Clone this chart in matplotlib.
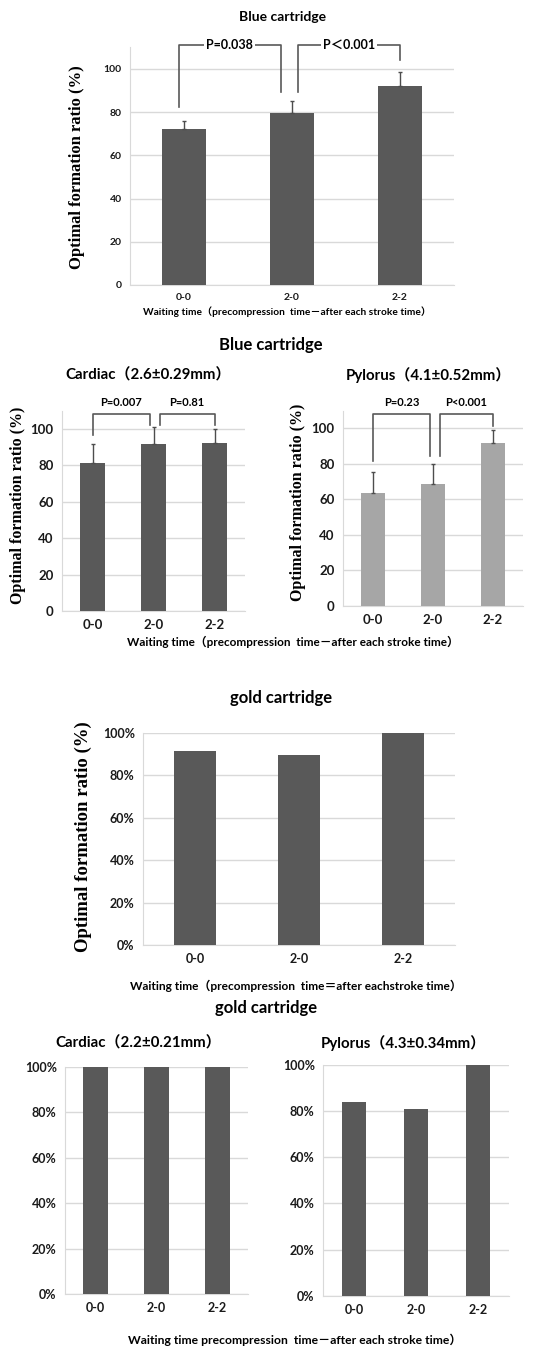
import matplotlib
matplotlib.use('Agg')
import matplotlib.pyplot as plt
import numpy as np

# categories (waiting time) shared by every panel
cats = ['0-0', '2-0', '2-2']

# blue cartridge, overall
blue_all = [72.1, 79.5, 92.1]
blue_all_err = [3.7, 5.7, 6.7]

# blue cartridge, by site
blue_cardiac = [81.5, 91.6, 92.3]
blue_cardiac_err = [10.0, 9.7, 7.5]
blue_pylorus = [63.8, 68.8, 91.7]
blue_pylorus_err = [11.4, 10.9, 7.3]

# gold cartridge
gold_all = [0.915, 0.895, 1.0]
gold_cardiac = [1.0, 1.0, 1.0]
gold_pylorus = [0.838, 0.808, 1.0]

# p-value brackets: (x_left, x_right, y_left_end, y_right_end, y_top, label)
brk_all = [(-0.05, 0.9, 82.6, 89.5, 111, 'P=0.038'),
           (1.06, 2.0, 89.5, 104, 111, 'P\uff1c0.001')]
brk_cardiac = [(0.0, 0.94, 96.7, 102, 108.2, 'P=0.007'),
               (1.1, 2.0, 102, 102, 108.2, 'P=0.81')]
brk_pylorus = [(0.0, 0.95, 81.6, 84.4, 108, 'P=0.23'),
               (1.12, 2.0, 84.4, 101, 108, 'P<0.001')]

W, H = 550, 1347
DARK = '#595959'
LIGHT = '#a6a6a6'
GRID = '#d9d9d9'

plt.rcParams['font.family'] = ['Lato', 'Noto Sans CJK JP', 'DejaVu Sans']

fig = plt.figure(figsize=(W / 100, H / 100), dpi=100)


def box(left, top, right, bottom):
    return [left / W, 1 - bottom / H, (right - left) / W, (bottom - top) / H]


def ftext(x, y, s, size, **kw):
    fig.text(x / W, 1 - y / H, s, fontsize=size, ha='center', va='center', **kw)


def make_axes(rect, vals, color, ylim, ticks, tick_fmt, tsize, err=None):
    ax = fig.add_axes(rect)
    x = np.arange(len(cats))
    ax.bar(x, vals, width=0.4, color=color, zorder=3)
    if err is not None:
        ax.errorbar(x, vals, yerr=[np.zeros(len(err)), err], fmt='none',
                    ecolor='#4d4d4d', elinewidth=1, capsize=1.5, zorder=4)
    ax.set_xlim(-0.5, len(cats) - 0.5)
    ax.set_ylim(*ylim)
    ax.set_yticks(ticks)
    ax.set_yticklabels([tick_fmt(t) for t in ticks], fontweight='bold', fontsize=tsize)
    ax.set_xticks(x)
    ax.set_xticklabels(cats, fontweight='bold', fontsize=tsize)
    ax.tick_params(length=0, pad=6, colors='#1a1a1a')
    ax.grid(axis='y', color=GRID, lw=1, zorder=0)
    for s in ['top', 'right']:
        ax.spines[s].set_visible(False)
    for s in ['left', 'bottom']:
        ax.spines[s].set_color(GRID)
    return ax


def brackets(ax, data, size, boxed):
    for x0, x1, y0, y1, yt, lab in data:
        ax.plot([x0, x0, x1, x1], [y0, yt, yt, y1], color='#595959', lw=1.2,
                clip_on=False, zorder=5)
        if boxed:
            ax.text((x0 + x1) / 2, yt, lab, ha='center', va='center', fontsize=size,
                    fontweight='bold', zorder=6, clip_on=False,
                    bbox=dict(facecolor='white', edgecolor='none', pad=1.5))
        else:
            ax.text((x0 + x1) / 2, yt + 6.5, lab, ha='center', va='center',
                    fontsize=size, fontweight='bold', clip_on=False)


num = lambda t: f'{t:g}'
pct = lambda t: f'{t * 100:.0f}%'
serif = dict(family='Liberation Serif', fontweight='bold')

# ---- panel 1 : blue cartridge overall
ax1 = make_axes(box(130, 47.4, 454, 285), blue_all, DARK, (0, 110),
                [0, 20, 40, 60, 80, 100], num, 7.5, blue_all_err)
brackets(ax1, brk_all, 9, True)
ftext(283, 17, 'Blue cartridge', 10, fontweight='bold')
ftext(77, 167, 'Optimal formation ratio (%)', 12, rotation=90, **serif)
ftext(287, 312, 'Waiting time\uff08precompression  time\uff0dafter each stroke time\uff09', 7.3,
      fontweight='bold')

# ---- panel 2 : blue cartridge, cardiac / pylorus
ax2 = make_axes(box(62, 410.8, 245, 611), blue_cardiac, DARK, (0, 110),
                [0, 20, 40, 60, 80, 100], num, 9.5, blue_cardiac_err)
brackets(ax2, brk_cardiac, 8, False)
ax3 = make_axes(box(343, 410.5, 523, 606), blue_pylorus, LIGHT, (0, 110),
                [0, 20, 40, 60, 80, 100], num, 9.5, blue_pylorus_err)
brackets(ax3, brk_pylorus, 8, False)
ftext(271, 345, 'Blue cartridge', 12, fontweight='bold')
ftext(148, 375, 'Cardiac\uff082.6\u00b10.29mm\uff09', 10.8, fontweight='bold')
ftext(428, 375, 'Pylorus\uff084.1\u00b10.52mm\uff09', 10.8, fontweight='bold')
ftext(18, 505, 'Optimal formation ratio (%)', 11.5, rotation=90, **serif)
ftext(298, 502, 'Optimal formation ratio (%)', 11.5, rotation=90, **serif)
ftext(293, 642, 'Waiting time\uff08precompression  time\uff0dafter each stroke time\uff09', 8.5,
      fontweight='bold')

# ---- panel 3 : gold cartridge overall
ax4 = make_axes(box(143, 732.7, 455, 945), gold_all, DARK, (0, 1),
                [0, 0.2, 0.4, 0.6, 0.8, 1.0], pct, 9)
ftext(281, 698, 'gold cartridge', 12, fontweight='bold')
ftext(83, 837, 'Optimal formation ratio (%)', 13.5, rotation=90, **serif)
ftext(296, 986, 'Waiting time\uff08precompression  time\uff1dafter eachstroke time\uff09', 8.6,
      fontweight='bold')

# ---- panel 4 : gold cartridge, cardiac / pylorus
ax5 = make_axes(box(65, 1066.7, 248, 1294), gold_cardiac, DARK, (0, 1),
                [0, 0.2, 0.4, 0.6, 0.8, 1.0], pct, 9)
ax6 = make_axes(box(323, 1065, 509, 1295.7), gold_pylorus, DARK, (0, 1),
                [0, 0.2, 0.4, 0.6, 0.8, 1.0], pct, 9)
ftext(266, 1008, 'gold cartridge', 12, fontweight='bold')
ftext(138, 1043, 'Cardiac\uff082.2\u00b10.21mm\uff09', 10.8, fontweight='bold')
ftext(403, 1043, 'Pylorus\uff084.3\u00b10.34mm\uff09', 10.8, fontweight='bold')
ftext(295, 1340, 'Waiting time precompression  time\uff0dafter each stroke time\uff09', 8.7,
      fontweight='bold')

fig.savefig('out.png', dpi=100)
